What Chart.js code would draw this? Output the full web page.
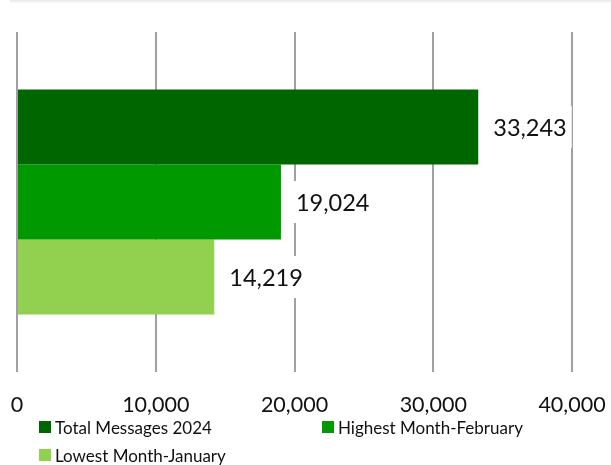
<!DOCTYPE html>
<html>
<head>
<meta charset="utf-8">
<script src="https://cdn.jsdelivr.net/npm/chart.js@4.4.1/dist/chart.umd.min.js"></script>
<style>
  html, body { margin: 0; padding: 0; background: #fff; }
  #wrap { position: relative; width: 611px; height: 465px; }
  #topline { position: absolute; left: 10px; right: 0; top: 0; height: 3px;
             background: linear-gradient(#e8e8e8, #fafafa); }
  #legend { position: absolute; left: 0; top: 0; width: 611px; height: 465px; pointer-events: none;
            font-family: Lato, "Noto Sans", sans-serif; font-size: 17px; color: #111; }
  .item { position: absolute; display: flex; align-items: center; white-space: nowrap; }
  .box { width: 12px; height: 12px; margin-right: 4px; }
</style>
</head>
<body>
<div id="wrap">
  <canvas id="msgChart" width="611" height="465"></canvas>
  <div id="topline"></div>
  <div id="legend"></div>
</div>
<script>
const categories = ['Messages'];
const seriesNames = ['Total Messages 2024', 'Highest Month-February', 'Lowest Month-January'];
const seriesValues = [[33243], [19024], [14219]];
const seriesColors = ['#006600', '#009900', '#92D050'];
const tickValues = [0, 10000, 20000, 30000, 40000];

const FONT = 'Lato, "Noto Sans", sans-serif';

// value labels with a white backing box, to the right of each bar
const valueLabels = {
  id: 'valueLabels',
  afterDatasetsDraw(chart) {
    const ctx = chart.ctx;
    ctx.save();
    ctx.font = '23.5px ' + FONT;
    ctx.textBaseline = 'middle';
    chart.data.datasets.forEach((ds, i) => {
      const bar = chart.getDatasetMeta(i).data[0];
      const text = ds.data[0].toLocaleString('en-US');
      const w = ctx.measureText(text).width;
      const x = bar.x + 15;
      ctx.fillStyle = '#fff';
      ctx.fillRect(x - 5, bar.y - 21, w + 10, 42);
      ctx.fillStyle = '#111';
      ctx.fillText(text, x, bar.y + 1);
    });
    ctx.restore();
  }
};

const chart = new Chart(document.getElementById('msgChart'), {
  type: 'bar',
  data: {
    labels: categories,
    datasets: seriesNames.map((name, i) => ({
      label: name,
      data: seriesValues[i],
      backgroundColor: seriesColors[i],
      borderWidth: 0,
      categoryPercentage: 0.662,
      barPercentage: 1.0
    }))
  },
  options: {
    indexAxis: 'y',
    responsive: false,
    animation: false,
    layout: { padding: { left: 17, right: 39, top: 32, bottom: 0 } },
    scales: {
      x: {
        min: 0,
        max: 40000,
        afterBuildTicks(scale) {
          scale.ticks = tickValues.map(v => ({ value: v }));
        },
        afterFit(scale) {
          scale.height = 93;
          scale.paddingLeft = 0;
          scale.paddingRight = 0;
        },
        grid: { color: '#a0a0a0', lineWidth: 2, drawTicks: false },
        border: { display: false },
        ticks: {
          padding: 20,
          color: '#111',
          font: { family: FONT, size: 21.5 },
          callback: v => v.toLocaleString('en-US')
        }
      },
      y: { display: false }
    },
    plugins: {
      legend: { display: false },
      tooltip: { enabled: false }
    }
  },
  plugins: [valueLabels]
});

// legend laid out in two columns under the axis
const legendSlots = [[39, 427], [322, 427], [39, 455]];
const legendEl = document.getElementById('legend');
chart.data.datasets.forEach((ds, i) => {
  const item = document.createElement('div');
  item.className = 'item';
  item.style.left = legendSlots[i][0] + 'px';
  item.style.top = (legendSlots[i][1] - 12) + 'px';
  item.style.height = '24px';
  item.innerHTML = '<span class="box" style="background:' + ds.backgroundColor + '"></span>' + ds.label;
  legendEl.appendChild(item);
});
</script>
</body>
</html>
